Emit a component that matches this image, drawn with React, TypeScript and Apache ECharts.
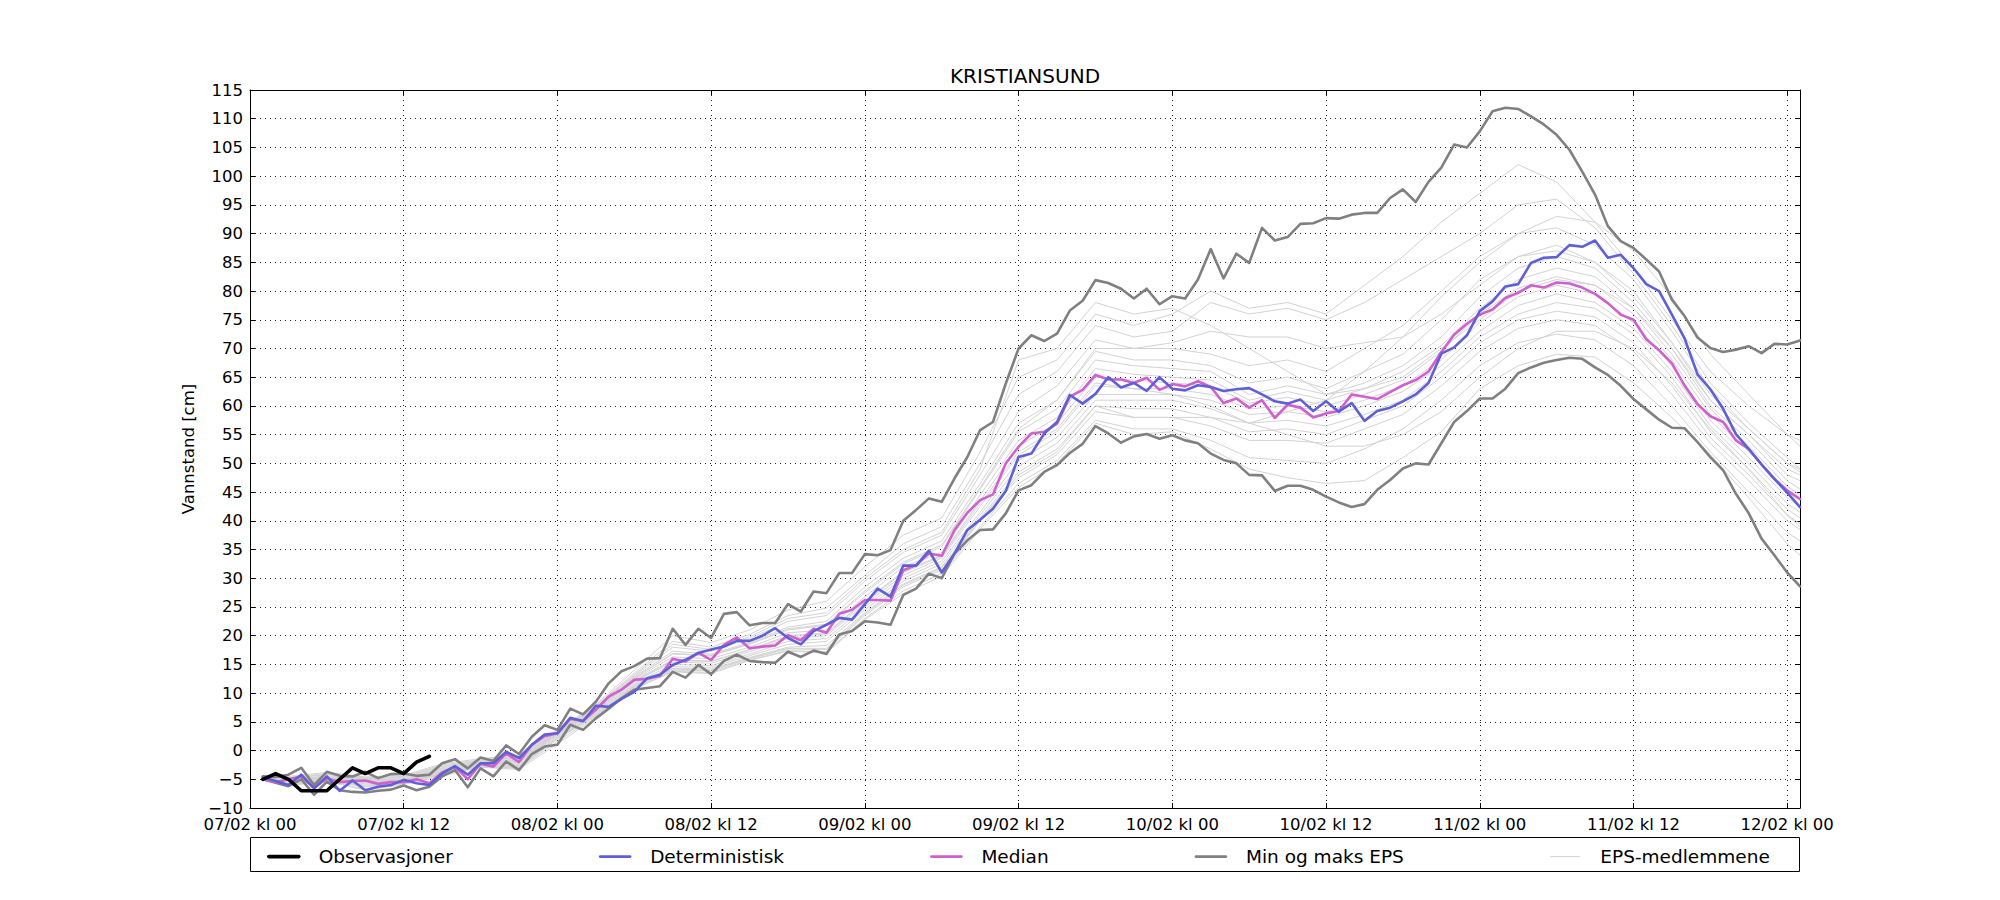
import React, { useEffect, useRef } from "react";
import * as echarts from "echarts";

const TITLE = "KRISTIANSUND";
const Y_NAME = "Vannstand [cm]";
const FONT = "DejaVu Sans";

const X_MIN = 0;
const X_MAX = 121;
const X_STEP = 12;
const X_TICK_LABELS = [
  "07/02 kl 00", "07/02 kl 12", "08/02 kl 00", "08/02 kl 12", "09/02 kl 00", "09/02 kl 12",
  "10/02 kl 00", "10/02 kl 12", "11/02 kl 00", "11/02 kl 12", "12/02 kl 00",
];
const Y_MIN = -10;
const Y_MAX = 115;
const Y_STEP = 5;

const LEGEND_NAMES = ["Observasjoner", "Deterministisk", "Median", "Min og maks EPS", "EPS-medlemmene"];

// hours after 07/02 kl 00
const OBS_START = 1;
const OBS = [-5, -4, -5, -7, -7, -7, -5, -3, -4, -3, -3, -4, -2, -1];

const FC_START = 1;
const DET = [
  -4.65, -5.3, -6.0, -4.2, -6.6, -4.5, -7.0, -5.2, -6.9, -6.3, -6.0, -5.1, -5.7, -6.0, -4.0, -2.7, -4.2, -2.2, -2.2, -0.2, -1.3, 1.0, 2.8, 3.0, 5.7,
  5.1, 7.8, 7.6, 9.0, 10.2, 12.6, 13.2, 14.9, 15.8, 17.0, 17.6, 18.1, 19.1, 19.1, 20.0, 21.3, 19.6, 18.5, 20.8, 21.9, 23.1, 22.8, 25.5,
  28.2, 26.8, 32.2, 32.2, 34.8, 31.0, 34.3, 38.4, 40.2, 42.1, 45.2, 51.1, 51.7, 55.2, 57.2, 61.9, 60.4, 62.1, 65.0, 63.2, 64.0, 62.6, 65.0, 63.0,
  62.7, 63.6, 63.3, 62.6, 62.9, 63.1, 62.0, 60.8, 60.4, 61.1, 59.1, 60.8, 59.0, 60.5, 57.4, 59.1, 59.7, 60.8, 62.0, 64.0, 69.1, 70.2, 72.3, 76.5,
  78.2, 80.8, 81.2, 84.9, 85.8, 85.9, 88.0, 87.7, 88.8, 85.8, 86.3, 84.0, 81.2, 80.0, 75.9, 71.7,
  65.5, 62.9, 59.5, 55.1, 52.5, 49.8, 47.3, 44.9, 42.4,
];
const MEDIAN = [
  -5.0, -5.5, -5.0, -4.5, -6.5, -4.8, -5.5, -5.3, -5.2, -5.8, -5.5, -5.5, -5.0, -5.7, -3.8, -2.8, -5.0, -2.3, -2.8, -0.5, -2.0, 1.0, 2.5, 3.0, 5.5,
  5.2, 7.1, 9.4, 10.6, 12.3, 12.5, 13.0, 16.0, 15.5, 17.0, 15.8, 18.4, 19.7, 17.8, 18.1, 18.3, 20.1, 19.2, 21.2, 20.5, 23.8, 24.5, 26.2,
  26.2, 26.1, 31.4, 32.3, 34.3, 33.9, 38.4, 41.4, 43.6, 44.6, 50.0, 52.9, 55.2, 55.5, 56.9, 61.6, 62.8, 65.4, 64.6, 64.6, 64.0, 64.9, 62.8, 63.8,
  63.4, 64.3, 63.3, 60.5, 61.3, 59.7, 61.0, 57.9, 60.2, 59.7, 58.0, 58.7, 59.1, 62.0, 61.6, 61.2, 62.4, 63.6, 64.5, 66.0, 69.4, 72.4, 74.3, 75.9,
  76.8, 78.8, 79.7, 81.0, 80.6, 81.5, 81.3, 80.6, 79.5, 77.9, 75.9, 75.0, 71.6, 69.7, 67.4, 63.5, 60.3, 58.2, 57.2, 54.0, 52.5, 49.8, 47.3, 45.3, 43.8,
];
const EPS_MAX = [
  -4.5, -4.6, -4.2, -3.0, -6.0, -3.7, -4.4, -4.5, -3.7, -4.8, -4.1, -4.0, -4.4, -4.2, -2.2, -1.5, -3.1, -1.2, -1.8, 0.9, -0.6, 2.4, 4.4, 3.6, 7.3,
  6.3, 8.5, 11.7, 13.8, 14.7, 16.0, 16.1, 21.2, 18.4, 21.2, 19.6, 23.8, 24.1, 21.8, 22.2, 22.2, 25.5, 24.2, 27.7, 27.4, 30.9, 30.9, 34.2,
  34.0, 34.9, 40.0, 41.9, 43.9, 43.3, 47.4, 51.1, 55.8, 57.2, 63.9, 70.0, 72.3, 71.3, 72.6, 76.6, 78.3, 81.9, 81.4, 80.4, 78.7, 80.4, 77.7, 79.1,
  78.7, 82.0, 87.3, 82.2, 86.5, 84.9, 91.0, 88.8, 89.4, 91.7, 91.8, 92.7, 92.6, 93.3, 93.6, 93.6, 96.2, 97.7, 95.5, 99.0, 101.5, 105.5, 105.0, 107.8,
  111.3, 111.9, 111.7, 110.4, 109.0, 107.2, 104.6, 100.8, 96.8, 91.3, 88.7, 87.5, 85.5, 83.4, 78.5, 75.6, 71.9, 70.1, 69.4, 69.8, 70.4, 69.2, 70.8, 70.7, 71.4,
];
const EPS_MIN = [
  -5.0, -5.6, -6.2, -5.0, -7.7, -5.4, -6.9, -7.2, -7.3, -7.0, -6.8, -6.1, -6.9, -6.3, -4.5, -3.4, -6.4, -3.1, -4.5, -1.9, -3.4, -0.6, 0.7, 1.0, 4.5,
  3.6, 5.6, 7.3, 9.1, 10.6, 10.9, 11.2, 13.7, 12.7, 14.9, 13.3, 15.6, 16.7, 15.6, 15.4, 15.3, 17.2, 16.3, 17.4, 16.8, 20.2, 20.8, 22.5,
  22.3, 21.9, 27.1, 28.2, 30.8, 30.0, 34.3, 36.6, 38.4, 38.5, 41.3, 45.3, 46.2, 48.5, 49.7, 51.8, 53.4, 56.5, 55.2, 53.6, 54.7, 55.1, 54.3, 54.9,
  54.0, 53.5, 51.7, 50.6, 50.0, 48.0, 47.9, 45.2, 46.1, 46.1, 45.4, 44.2, 43.2, 42.4, 42.9, 45.4, 47.1, 49.1, 50.0, 49.8, 53.5, 57.2, 59.1, 61.3,
  61.3, 63.0, 65.7, 66.7, 67.5, 68.0, 68.4, 68.2, 66.7, 65.4, 63.5, 61.2, 59.4, 57.6, 56.2, 56.1, 53.7, 51.1, 48.8, 44.7, 41.3, 36.9, 34.0, 31.0, 28.6,
];

// ensemble members, read every 3 hours
const EPS_HOURS = [1, 3, 6, 9, 12, 15, 18, 21, 24, 27, 30, 33, 36, 39, 42, 45, 48, 51, 54, 57, 60, 63, 66, 69, 72, 75, 78, 81, 84, 87, 90, 93, 96, 99, 102, 105, 108, 111, 114, 117, 120, 121];
const M01 = [-4.55, -4.5, -3.8, -4.6, -4.3, -2.3, -1.4, -0.8, 3.6, 8.0, 14.0, 20.0, 18.8, 21.0, 24.5, 26.0, 32.0, 37.5, 40.5, 52.0, 65.0, 68.0, 76.0, 74.0, 76.0, 80.0, 77.0, 78.0, 76.0, 81.0, 86.0, 92.0, 97.0, 102.0, 99.0, 92.0, 84.0, 75.0, 66.0, 60.0, 55.0, 54.0];
const M02 = [-4.6, -4.7, -4.0, -4.7, -4.5, -2.5, -1.6, -1.0, 3.4, 7.8, 13.5, 19.0, 18.0, 20.2, 23.5, 24.8, 30.5, 36.0, 39.0, 50.0, 62.0, 66.0, 74.0, 72.0, 73.0, 78.0, 76.0, 77.0, 75.0, 78.0, 82.0, 86.0, 90.0, 95.0, 96.0, 91.0, 83.0, 74.0, 64.0, 57.0, 51.0, 49.0];
const M03 = [-4.65, -4.9, -4.2, -4.9, -4.7, -2.8, -1.8, -1.3, 3.3, 7.6, 13.0, 18.0, 17.3, 19.5, 22.5, 23.5, 29.5, 34.5, 37.5, 48.0, 59.0, 63.5, 71.5, 70.0, 70.0, 69.0, 67.0, 68.0, 66.0, 70.0, 74.0, 80.0, 86.0, 90.0, 91.0, 88.0, 82.0, 73.0, 63.0, 56.0, 50.0, 48.5];
const M04 = [-4.7, -5.0, -4.4, -5.0, -4.9, -3.0, -1.9, -1.5, 3.2, 7.4, 12.8, 17.3, 16.8, 18.8, 21.5, 22.5, 28.5, 33.5, 36.5, 46.5, 57.0, 61.0, 69.5, 68.0, 68.0, 67.0, 64.0, 65.0, 63.0, 66.0, 69.0, 75.0, 82.0, 86.0, 88.0, 85.0, 80.0, 71.0, 61.0, 55.0, 48.0, 47.0];
const M05 = [-4.7, -5.1, -4.6, -5.1, -5.0, -3.2, -2.0, -1.7, 3.1, 7.3, 12.6, 16.8, 16.5, 18.5, 21.0, 21.8, 27.5, 32.5, 35.5, 45.5, 55.5, 59.5, 68.0, 67.0, 66.5, 66.0, 62.0, 63.5, 62.0, 64.0, 67.0, 72.0, 79.0, 84.0, 86.0, 84.0, 78.0, 70.0, 60.0, 54.0, 47.0, 45.5];
const M06 = [-4.75, -5.2, -4.7, -5.2, -5.1, -3.4, -2.1, -1.9, 3.0, 7.2, 12.4, 16.3, 16.0, 18.0, 20.5, 21.0, 26.8, 32.0, 34.5, 44.5, 54.0, 58.0, 66.5, 65.5, 65.0, 64.5, 61.0, 62.5, 61.0, 63.0, 66.0, 70.5, 77.0, 82.0, 84.0, 82.5, 77.0, 69.0, 59.5, 53.0, 46.0, 44.5];
const M07 = [-4.8, -5.3, -4.8, -5.3, -5.2, -3.6, -2.2, -2.0, 2.9, 7.0, 12.2, 15.8, 15.6, 17.6, 20.0, 20.5, 26.0, 31.2, 34.0, 43.5, 53.0, 57.0, 65.0, 64.5, 64.0, 63.5, 60.5, 61.5, 60.0, 62.0, 64.5, 69.5, 76.0, 80.5, 82.5, 81.0, 76.0, 68.0, 58.5, 52.0, 45.0, 43.5];
const M08 = [-4.8, -5.4, -4.9, -5.4, -5.3, -3.7, -2.3, -2.2, 2.8, 6.9, 12.0, 15.4, 15.2, 17.2, 19.5, 20.0, 25.5, 30.5, 33.5, 42.5, 51.5, 55.5, 63.5, 63.0, 63.0, 62.0, 59.5, 60.0, 59.0, 61.0, 63.5, 68.0, 74.5, 79.0, 81.0, 79.5, 74.5, 67.0, 57.5, 51.0, 44.0, 42.5];
const M09 = [-4.85, -5.5, -5.0, -5.6, -5.4, -3.8, -2.4, -2.4, 2.6, 6.7, 11.7, 15.0, 14.8, 16.8, 19.0, 19.5, 25.0, 30.0, 33.0, 41.5, 50.5, 54.5, 62.0, 62.0, 62.0, 61.0, 58.5, 59.0, 58.0, 60.0, 62.5, 67.0, 73.0, 77.5, 79.5, 78.0, 73.5, 66.0, 56.5, 50.0, 43.0, 41.5];
const M10 = [-4.9, -5.7, -5.1, -5.8, -5.5, -3.9, -2.5, -2.6, 2.4, 6.5, 11.5, 14.6, 14.5, 16.5, 18.5, 19.0, 24.5, 29.5, 32.5, 41.0, 49.5, 53.5, 61.0, 61.0, 61.0, 59.5, 57.0, 57.5, 56.5, 58.5, 61.0, 66.0, 72.0, 76.0, 78.0, 77.0, 72.5, 65.0, 55.5, 49.0, 42.0, 40.5];
const M11 = [-4.9, -5.8, -5.2, -6.0, -5.6, -4.0, -2.6, -2.8, 2.2, 6.3, 11.3, 14.3, 14.2, 16.2, 18.0, 18.3, 24.0, 29.0, 32.0, 40.5, 48.5, 52.5, 60.0, 59.5, 59.5, 58.0, 55.5, 56.0, 55.0, 57.5, 60.0, 65.0, 71.0, 75.0, 76.5, 75.5, 71.0, 63.5, 54.5, 48.0, 41.0, 39.5];
const M12 = [-4.95, -5.9, -5.3, -6.3, -5.7, -4.1, -2.7, -3.0, 2.0, 6.1, 11.1, 14.0, 13.9, 16.0, 17.7, 17.6, 23.5, 28.5, 31.5, 40.0, 47.5, 51.5, 59.0, 58.0, 58.0, 56.5, 54.0, 54.0, 53.5, 56.0, 58.5, 63.5, 69.5, 73.5, 75.0, 74.0, 69.5, 62.0, 53.5, 47.0, 40.0, 38.5];
const M13 = [-4.95, -6.0, -5.4, -6.7, -5.8, -4.2, -2.8, -3.1, 1.6, 5.9, 10.9, 13.8, 13.6, 15.8, 17.4, 17.2, 23.0, 27.8, 30.8, 39.0, 46.5, 50.5, 57.5, 56.0, 56.0, 54.0, 51.0, 50.5, 50.0, 52.5, 56.0, 61.0, 67.0, 71.0, 72.5, 71.5, 67.0, 60.0, 52.0, 45.0, 38.0, 36.5];
const M14 = [-5.0, -6.1, -5.3, -6.9, -5.9, -4.4, -2.9, -3.3, 1.2, 5.7, 10.7, 13.7, 13.4, 15.7, 17.3, 17.0, 22.8, 27.3, 30.3, 38.6, 45.8, 50.0, 57.0, 55.0, 55.5, 52.5, 49.0, 47.5, 46.5, 47.0, 51.0, 55.5, 63.0, 67.0, 69.0, 68.5, 64.0, 58.0, 51.5, 44.0, 36.0, 34.0];
const M15 = [-4.6, -4.8, -4.1, -4.8, -4.6, -2.7, -1.7, -1.2, 3.3, 7.7, 13.2, 18.5, 17.6, 19.8, 23.0, 24.0, 30.0, 35.0, 38.0, 49.0, 68.0, 70.0, 78.0, 76.0, 77.0, 74.0, 70.0, 66.0, 62.0, 63.0, 65.0, 70.0, 75.0, 80.0, 82.0, 81.0, 77.0, 70.0, 61.0, 55.0, 49.0, 48.0];
const M16 = [-4.95, -5.8, -5.2, -6.2, -5.6, -4.1, -2.7, -2.9, 2.1, 6.2, 11.2, 14.2, 14.0, 16.1, 17.8, 17.8, 23.8, 28.8, 31.8, 40.2, 48.0, 52.0, 60.0, 58.0, 58.0, 58.0, 57.0, 59.0, 61.0, 66.0, 72.0, 79.0, 85.0, 90.0, 93.0, 92.0, 87.0, 79.0, 69.0, 62.0, 55.0, 53.0];
const M17 = [-4.8, -5.3, -4.8, -5.3, -5.2, -3.6, -2.2, -2.1, 2.9, 7.0, 12.1, 15.7, 15.5, 17.5, 19.8, 20.3, 25.8, 31.0, 33.8, 43.0, 52.0, 56.0, 64.0, 63.0, 62.0, 60.0, 57.0, 55.0, 53.0, 53.0, 55.0, 59.0, 65.0, 70.0, 73.0, 73.0, 70.0, 64.0, 56.0, 49.0, 41.0, 39.0];
const M18 = [-4.7, -5.1, -4.6, -5.1, -5.0, -3.2, -2.0, -1.7, 3.1, 7.3, 12.6, 16.9, 16.6, 18.6, 21.2, 22.0, 27.8, 32.8, 35.8, 45.8, 56.0, 61.0, 70.0, 70.0, 71.0, 73.0, 72.0, 72.0, 70.0, 71.0, 72.0, 76.0, 81.0, 86.0, 87.0, 85.0, 79.0, 71.0, 62.0, 56.0, 50.0, 49.0];
const EPS_MEMBERS = [M01, M02, M03, M04, M05, M06, M07, M08, M09, M10, M11, M12, M13, M14, M15, M16, M17, M18];

const COLOR_OBS = "#000000";
const COLOR_DET = "#5f5fd7";
const COLOR_MED = "#d060d0";
const COLOR_MINMAX = "#808080";
const COLOR_MEMBER = "#d3d3d3";

const W_OBS = 3.6;
const W_MAIN = 2.6;
const W_MEMBER = 1;

function hourly(values: number[], start: number) {
  return values.map((v, i) => [start + i, v]);
}

function minusLabel(v: number) {
  return v < 0 ? "\u2212" + Math.abs(v) : String(v);
}

function buildOption() {
  const memberSeries = EPS_MEMBERS.map((m) => ({
    name: "EPS-medlemmene",
    type: "line",
    data: m.map((v, i) => [EPS_HOURS[i], v]),
    showSymbol: false,
    symbol: "none",
    color: COLOR_MEMBER,
    lineStyle: { color: COLOR_MEMBER, width: W_MEMBER },
    silent: true,
    z: 2,
  }));
  const mk = (name: string, data: number[][], color: string, width: number, z: number) => ({
    name,
    type: "line",
    data,
    showSymbol: false,
    symbol: "none",
    color,
    lineStyle: { color, width, join: "round", cap: "round" },
    silent: true,
    z,
  });
  const axisText = { fontFamily: FONT, fontSize: 16.5, color: "#000", lineHeight: 16 };
  const tick = { show: true, inside: true, length: 5, lineStyle: { color: "#000", width: 1 } };
  const axisLine = { show: true, onZero: false, lineStyle: { color: "#000", width: 1 } };
  const dotted = { show: true, lineStyle: { color: "#222", width: 1, type: [1, 4] as any } };
  return {
    animation: false,
    backgroundColor: "#ffffff",
    textStyle: { fontFamily: FONT },
    title: {
      text: TITLE,
      left: 1025,
      top: 66,
      padding: 0,
      textAlign: "center",
      textStyle: { fontFamily: FONT, fontSize: 20, fontWeight: "normal", color: "#000" },
    },
    grid: { left: 250, right: 200, top: 90, bottom: 92, containLabel: false },
    xAxis: [
      {
        type: "value",
        min: X_MIN,
        max: X_MAX,
        interval: X_STEP,
        axisLine,
        axisTick: tick,
        splitLine: dotted,
        axisLabel: {
          ...axisText,
          margin: 8,
          showMaxLabel: false,
          formatter: (v: number) => (v % X_STEP === 0 ? X_TICK_LABELS[v / X_STEP] ?? "" : ""),
        },
      },
      {
        type: "value",
        position: "top",
        min: X_MIN,
        max: X_MAX,
        interval: X_STEP,
        axisLine,
        axisTick: tick,
        splitLine: { show: false },
        axisLabel: { show: false },
      },
    ],
    yAxis: [
      {
        type: "value",
        min: Y_MIN,
        max: Y_MAX,
        interval: Y_STEP,
        axisLine,
        axisTick: tick,
        splitLine: dotted,
        axisLabel: { ...axisText, margin: 7, formatter: minusLabel },
        name: Y_NAME,
        nameLocation: "middle",
        nameGap: 41,
        nameTextStyle: { fontFamily: FONT, fontSize: 16.5, color: "#000" },
      },
      {
        type: "value",
        position: "right",
        min: Y_MIN,
        max: Y_MAX,
        interval: Y_STEP,
        axisLine,
        axisTick: tick,
        splitLine: { show: false },
        axisLabel: { show: false },
      },
    ],
    legend: {
      left: 262,
      top: 842,
      itemWidth: 30,
      itemHeight: 24,
      itemGap: 146,
      selectedMode: false,
      data: [
        { name: LEGEND_NAMES[0], lineStyle: { width: W_OBS } },
        { name: LEGEND_NAMES[1], lineStyle: { width: W_MAIN } },
        { name: LEGEND_NAMES[2], lineStyle: { width: W_MAIN } },
        { name: LEGEND_NAMES[3], lineStyle: { width: W_MAIN } },
        { name: LEGEND_NAMES[4], lineStyle: { width: W_MEMBER } },
      ],
      itemStyle: { opacity: 0 },
      textStyle: { fontFamily: FONT, fontSize: 18.5, color: "#000", padding: [0, 0, 0, 15] },
      z: 5,
    },
    graphic: [
      {
        type: "rect",
        z: 1,
        shape: { x: 250.5, y: 837.5, width: 1549, height: 34 },
        style: { fill: "#ffffff", stroke: "#000", lineWidth: 1 },
        silent: true,
      },
    ],
    series: [
      ...memberSeries,
      mk("Min og maks EPS", hourly(EPS_MIN, FC_START), COLOR_MINMAX, W_MAIN, 3),
      mk("Min og maks EPS", hourly(EPS_MAX, FC_START), COLOR_MINMAX, W_MAIN, 3),
      mk("Median", hourly(MEDIAN, FC_START), COLOR_MED, W_MAIN, 4),
      mk("Deterministisk", hourly(DET, FC_START), COLOR_DET, W_MAIN, 5),
      mk("Observasjoner", hourly(OBS, OBS_START), COLOR_OBS, W_OBS, 6),
    ],
  };
}

export default function App() {
  const ref = useRef<HTMLDivElement>(null);
  useEffect(() => {
    document.body.style.margin = "0";
    const chart = echarts.init(ref.current as HTMLDivElement, undefined, { renderer: "svg" });
    chart.setOption(buildOption() as any);
    return () => chart.dispose();
  }, []);
  return <div ref={ref} style={{ width: 2000, height: 900 }} />;
}
